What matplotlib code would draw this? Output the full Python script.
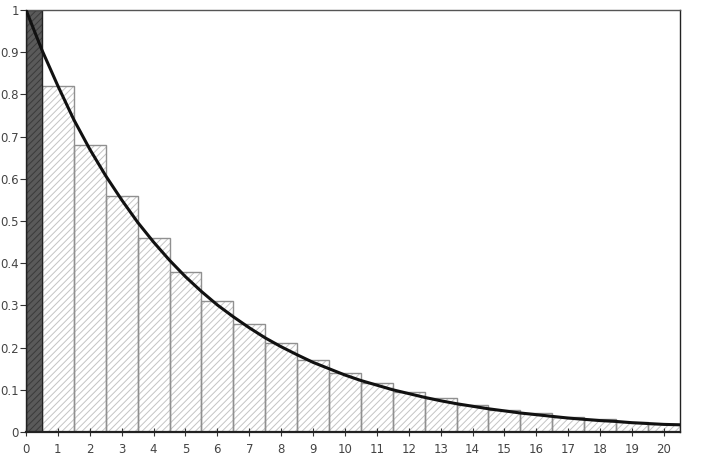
import numpy as np
import matplotlib.pyplot as plt

# bar heights at k = 1..20
k = np.arange(1, 21)
heights = [0.82, 0.68, 0.56, 0.46, 0.38, 0.31, 0.255, 0.21, 0.17, 0.14,
           0.115, 0.095, 0.08, 0.065, 0.053, 0.044, 0.036, 0.03, 0.024, 0.02]

# dark bar at 0 (half width)
first_height = 1.0

# curve every 0.5
curve_x = np.arange(0, 20.51, 0.5)
curve_y = [1.0, 0.905, 0.82, 0.74, 0.67, 0.607, 0.55, 0.497, 0.45, 0.407,
           0.368, 0.333, 0.301, 0.273, 0.247, 0.223, 0.202, 0.183, 0.165, 0.15,
           0.135, 0.122, 0.111, 0.10, 0.091, 0.082, 0.074, 0.067, 0.061, 0.055,
           0.05, 0.045, 0.041, 0.037, 0.033, 0.03, 0.027, 0.025, 0.022, 0.02,
           0.018, 0.017]

xticks = list(range(0, 21))
yticks = [0, 0.1, 0.2, 0.3, 0.4, 0.5, 0.6, 0.7, 0.8, 0.9, 1]
ylabels = ['0', '0.1', '0.2', '0.3', '0.4', '0.5', '0.6', '0.7', '0.8', '0.9', '1']

plt.rcParams['hatch.linewidth'] = 0.7

fig = plt.figure(figsize=(7.03, 4.65), dpi=100)
ax = fig.add_axes([0.037, 0.071, 0.93, 0.9075])

# hatched fill then outlines
plt.rcParams['hatch.color'] = '#c4c4c4'
ax.bar(k, heights, width=1.0, color='white', edgecolor='#c4c4c4', linewidth=0, hatch='/////', zorder=1)
ax.bar(k, heights, width=1.0, fill=False, edgecolor='#909090', linewidth=1.0, zorder=2)

ax.bar(0.25, first_height, width=0.5, color='#5a5a5a', edgecolor='#3a3a3a', linewidth=0, hatch='/////', zorder=1)
ax.bar(0.25, first_height, width=0.5, fill=False, edgecolor='#222222', linewidth=1.0, zorder=2)

ax.plot(curve_x, curve_y, color='#111111', linewidth=2.2, zorder=3)

ax.set_xlim(0, 20.5)
ax.set_ylim(0, 1)
ax.set_xticks(xticks)
ax.set_yticks(yticks)
ax.set_yticklabels(ylabels)

for s in ax.spines.values():
    s.set_color('#222222')
    s.set_linewidth(1.0)
ax.spines['bottom'].set_linewidth(1.6)
ax.spines['top'].set_color('#555555')

ax.tick_params(axis='x', direction='inout', length=6, width=0.8, colors='#333333',
               labelsize=8.5, labelcolor='#444444', pad=5)
ax.tick_params(axis='y', direction='out', length=4, width=0.8, colors='#333333',
               labelsize=8.5, labelcolor='#444444', pad=1)

fig.savefig('out.png', dpi=100)
